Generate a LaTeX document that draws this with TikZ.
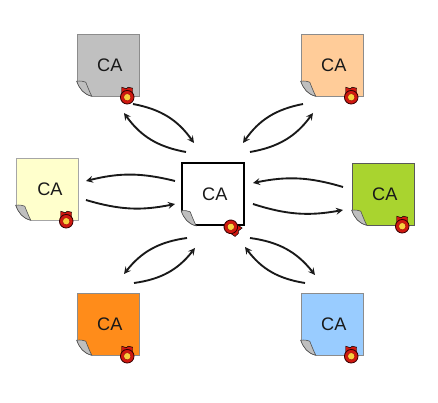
\documentclass[tikz,border=0pt]{standalone}
\usepackage{fontspec}
\setmainfont{Liberation Sans}
\usetikzlibrary{positioning,shapes,arrows,calc}

\definecolor{docgray}{HTML}{C0C0C0}
\definecolor{docpeach}{HTML}{FFCC99}
\definecolor{doccream}{HTML}{FFFFCC}
\definecolor{docgreen}{HTML}{A9D42F}
\definecolor{docorange}{HTML}{FF8C1A}
\definecolor{docblue}{HTML}{99CCFF}
\definecolor{sealred}{HTML}{D01810}
\definecolor{sealyellow}{HTML}{F8D040}

\tikzset{
  cadoc/.style={draw,minimum size=1.86cm,inner sep=0pt,font=\fontsize{15.5}{17}\selectfont,text=black!90},
  link/.style={-stealth,line width=1.6pt,black!90},
}

% zavihek in pecat na dokumentu
\newcommand{\foldseal}[3]{
  \fill [white] ($(#1.south west)+(-2,2)$) -- ($(#1.south west)+(-2,-15)$) -- ($(#1.south west)+(0,-15)$) .. controls ($(#1.south west)+(3,-7)$) and ($(#1.south west)+(7,-2)$) .. ($(#1.south west)+(15,0)$) -- ($(#1.south west)+(15,2)$) -- cycle;
  \draw [draw=black!60,line width=0.6pt] ($(#1.south west)+(0,-15)$) .. controls ($(#1.south west)+(3,-7)$) and ($(#1.south west)+(7,-2)$) .. ($(#1.south west)+(15,0)$);
  \filldraw [draw=black!70,fill=black!25,line width=0.5pt] ($(#1.south west)+(0,-15)$) .. controls ($(#1.south west)+(4,-15.5)$) and ($(#1.south west)+(7,-15)$) .. ($(#1.south west)+(9,-14)$) .. controls ($(#1.south west)+(11,-9)$) and ($(#1.south west)+(13,-4)$) .. ($(#1.south west)+(15,0)$) .. controls ($(#1.south west)+(7,-2)$) and ($(#1.south west)+(3,-7)$) .. cycle;
  \begin{scope}[shift={($(#1.south east)+(#2,1)$)},rotate=#3]
    \filldraw [draw=black,fill=sealred,line width=0.4pt] (-5.5,-3) -- (-5.5,-10) -- (-1,-8.5) -- (1,-10) -- (5.5,-9) -- (5.5,-3) -- cycle;
    \filldraw [draw=black!80!red,fill=sealred,line width=0.7pt] (0,0) circle (6.8);
    \filldraw [draw=red!60!black,fill=sealyellow,line width=0.3pt] (0,0) circle (3.6);
  \end{scope}
}

\begin{document}
\begin{tikzpicture}[x=0.03cm,y=-0.03cm]
    \useasboundingbox (0,0) rectangle (438,403);

    % dokumenti
    \node [cadoc,draw=black!45,fill=docgray] (gray) at (108,65) {\hspace{3pt}CA};
    \node [cadoc,draw=black!45,fill=docpeach] (peach) at (332,65) {\hspace{3pt}CA};
    \node [cadoc,draw=black!35,fill=doccream] (cream) at (47,189) {\hspace{5pt}CA};
    \node [cadoc,draw=black!65,fill=docgreen] (green) at (383,194) {\hspace{3pt}CA};
    \node [cadoc,draw=black!45,fill=docorange] (orange) at (108,324) {\hspace{3pt}CA};
    \node [cadoc,draw=black!45,fill=docblue] (blue) at (332,324) {\hspace{3pt}CA};
    \node [cadoc,draw=black,line width=1.4pt,fill=white] (center) at (213,194) {\hspace{3pt}CA};

    \foreach \doc in {gray,peach,cream,green,orange,blue}
      \foldseal{\doc}{-12}{0};
    \foldseal{center}{-14}{-125};

    % puscice
    \coordinate (g1) at (133,104);
    \coordinate (g2) at (194,143);
    \coordinate (g3) at (186,152);
    \coordinate (g4) at (124,113);
    \draw [link] (g1) to [bend left=22] (g2);
    \draw [link] (g3) to [bend left=22] (g4);

    \coordinate (p1) at (303,104);
    \coordinate (p2) at (243,143);
    \coordinate (p3) at (250,152);
    \coordinate (p4) at (313,113);
    \draw [link] (p1) to [bend right=22] (p2);
    \draw [link] (p3) to [bend right=22] (p4);

    \coordinate (c1) at (175,181);
    \coordinate (c2) at (86,181);
    \coordinate (c3) at (86,200);
    \coordinate (c4) at (175,204);
    \draw [link] (c1) to [bend right=14] (c2);
    \draw [link] (c3) to [bend right=14] (c4);

    \coordinate (r1) at (343,187);
    \coordinate (r2) at (253,183);
    \coordinate (r3) at (253,204);
    \coordinate (r4) at (343,210);
    \draw [link] (r1) to [bend right=14] (r2);
    \draw [link] (r3) to [bend right=14] (r4);

    \coordinate (o1) at (187,238);
    \coordinate (o2) at (124,274);
    \coordinate (o3) at (134,283);
    \coordinate (o4) at (195,248);
    \draw [link] (o1) to [bend right=22] (o2);
    \draw [link] (o3) to [bend right=22] (o4);

    \coordinate (b1) at (250,238);
    \coordinate (b2) at (315,275);
    \coordinate (b3) at (305,283);
    \coordinate (b4) at (245,247);
    \draw [link] (b1) to [bend left=22] (b2);
    \draw [link] (b3) to [bend left=22] (b4);
\end{tikzpicture}
\end{document}
